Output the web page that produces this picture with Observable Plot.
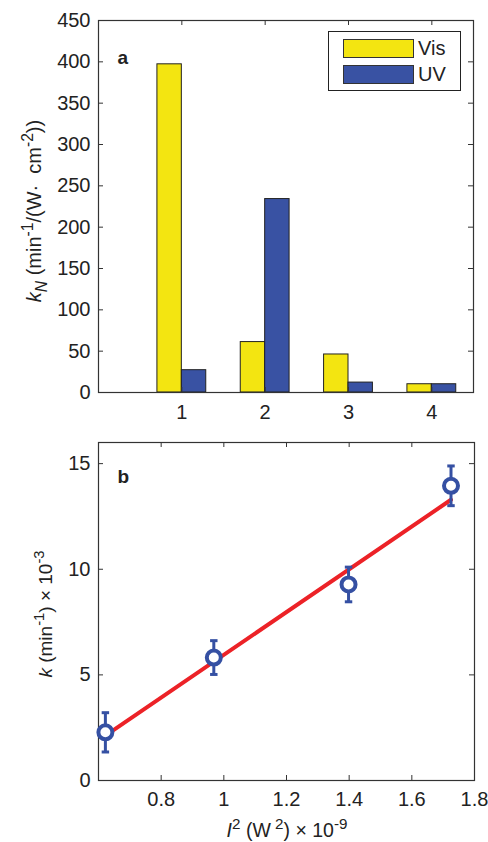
<!DOCTYPE html>
<html><head><meta charset="utf-8">
<script src="https://cdn.jsdelivr.net/npm/d3@7"></script>
<script src="https://cdn.jsdelivr.net/npm/@observablehq/plot@0.6"></script>
<style>
body{margin:0;background:#fff;font-family:"Liberation Sans",Arial,sans-serif;}
#wrap{position:relative;width:488px;height:842px;overflow:hidden;}
#wrap svg{display:block;}
.legend{position:absolute;left:328px;top:31px;width:133px;height:60px;border:1px solid #222;background:#fff;box-sizing:border-box;}
.sw{position:absolute;left:14px;width:71px;height:19px;border:1px solid #333;box-sizing:border-box;}
.lt{position:absolute;left:89px;font-size:20px;line-height:19px;color:#222;}
</style></head><body><div id="wrap"></div>
<script>
// ---- Panel a data ----
const categories = [1, 2, 3, 4];
const seriesNames = ["Vis", "UV"];
const visValues = [397, 61, 46, 10];
const uvValues = [27, 234, 12, 10];
const yTicksA = [0, 50, 100, 150, 200, 250, 300, 350, 400, 450];
// ---- Panel b data ----
const i2Values = [0.622, 0.968, 1.398, 1.725];
const kValues = [2.28, 5.82, 9.28, 13.95];
const kErrors = [0.93, 0.80, 0.82, 0.94];
const fitX = [0.622, 1.725];
const fitY = [2.12, 13.29];
const xTicksB = [0.8, 1, 1.2, 1.4, 1.6, 1.8];
const yTicksB = [0, 5, 10, 15];

const colors = {Vis: "#f3e511", UV: "#3952a3"};
const blue = "#3550a3", red = "#ec2227", axisColor = "#333";
const font = {fontFamily: "'Liberation Sans', Arial, sans-serif", fontSize: "20px", color: "#222", background: "white"};
const W = 488;

// ---------- Panel a ----------
const mA = {top: 20, right: 15, bottom: 38, left: 98};
const hA = 430;
const innerWA = W - mA.left - mA.right, innerHA = hA - mA.top - mA.bottom;
const barW = 0.293;
const barRows = categories.flatMap((c, i) => [
  {cat: c, series: "Vis", value: visValues[i]},
  {cat: c, series: "UV", value: uvValues[i]}
]);
const tick = 5;
const plotA = Plot.plot({
  width: W, height: hA,
  marginTop: mA.top, marginRight: mA.right, marginBottom: mA.bottom, marginLeft: mA.left,
  style: font,
  x: {domain: [0, 4.5]},
  y: {domain: [0, 450]},
  marks: [
    Plot.rectY(barRows, {
      x1: d => d.series === "Vis" ? d.cat - barW : d.cat,
      x2: d => d.series === "Vis" ? d.cat : d.cat + barW,
      y: "value", fill: d => colors[d.series], stroke: "#222", strokeWidth: 1
    }),
    Plot.frame({stroke: axisColor, strokeWidth: 1.2}),
    Plot.tickX(categories, {x: d => d, insetTop: innerHA - tick, stroke: axisColor}),
    Plot.tickX(categories, {x: d => d, insetBottom: innerHA - tick, stroke: axisColor}),
    Plot.tickY(yTicksA, {y: d => d, insetRight: innerWA - tick, stroke: axisColor}),
    Plot.tickY(yTicksA, {y: d => d, insetLeft: innerWA - tick, stroke: axisColor}),
    Plot.axisX(categories, {tickSize: 0, tickPadding: 12, label: null, fontSize: 20}),
    Plot.axisY(yTicksA, {tickSize: 0, tickPadding: 8, label: null, fontSize: 20}),
    Plot.text(["a"], {frameAnchor: "top-left", dx: 19, dy: 30, textAnchor: "start", fontWeight: "bold", fontSize: 19})
  ]
});

// ---------- Panel b ----------
const mB = {top: 12, right: 14, bottom: 62, left: 98};
const hB = 412;
const innerWB = W - mB.left - mB.right, innerHB = hB - mB.top - mB.bottom;
const pts = i2Values.map((x, i) => ({x, k: kValues[i], e: kErrors[i]}));
const fit = fitX.map((x, i) => ({x, y: fitY[i]}));
const capSymbol = {draw(ctx, size) { const w = Math.sqrt(size); ctx.moveTo(-w / 2, 0); ctx.lineTo(w / 2, 0); }};
const plotB = Plot.plot({
  width: W, height: hB,
  marginTop: mB.top, marginRight: mB.right, marginBottom: mB.bottom, marginLeft: mB.left,
  style: font,
  x: {domain: [0.6, 1.8]},
  y: {domain: [0, 16]},
  marks: [
    Plot.frame({stroke: axisColor, strokeWidth: 1.2}),
    Plot.tickX(xTicksB, {x: d => d, insetTop: innerHB - tick, stroke: axisColor}),
    Plot.tickX(xTicksB, {x: d => d, insetBottom: innerHB - tick, stroke: axisColor}),
    Plot.tickY(yTicksB, {y: d => d, insetRight: innerWB - tick, stroke: axisColor}),
    Plot.tickY(yTicksB, {y: d => d, insetLeft: innerWB - tick, stroke: axisColor}),
    Plot.axisX(xTicksB, {tickSize: 0, tickPadding: 11, label: null, fontSize: 20, tickFormat: d => String(d)}),
    Plot.axisY(yTicksB, {tickSize: 0, tickPadding: 8, label: null, fontSize: 20}),
    Plot.line(fit, {x: "x", y: "y", stroke: red, strokeWidth: 4}),
    Plot.ruleX(pts, {x: "x", y1: d => d.k - d.e, y2: d => d.k + d.e, stroke: blue, strokeWidth: 3}),
    Plot.dot(pts, {x: "x", y: d => d.k + d.e, symbol: capSymbol, r: 4.2, stroke: blue, strokeWidth: 3}),
    Plot.dot(pts, {x: "x", y: d => d.k - d.e, symbol: capSymbol, r: 4.2, stroke: blue, strokeWidth: 3}),
    Plot.dot(pts, {x: "x", y: "k", r: 7, stroke: blue, strokeWidth: 4, fill: "white"}),
    Plot.text(["b"], {frameAnchor: "top-left", dx: 19, dy: 27, textAnchor: "start", fontWeight: "bold", fontSize: 19})
  ]
});

const wrap = document.getElementById("wrap");
wrap.appendChild(plotA);
wrap.appendChild(plotB);

// rich text axis labels
function richLabel(svg, x, y, rotate, parts, size) {
  const t = d3.select(svg).append("text")
    .attr("transform", `translate(${x},${y})` + (rotate ? " rotate(-90)" : ""))
    .attr("text-anchor", "middle")
    .attr("font-size", size)
    .attr("fill", "#222")
    .attr("font-family", "'Liberation Sans', Arial, sans-serif");
  let shift = 0;
  for (const p of parts) {
    const s = p.sup ? -0.42 * size : p.sub ? 0.3 * size : 0;
    const ts = t.append("tspan").text(p.t).attr("dy", s - shift);
    if (p.sup || p.sub) ts.attr("font-size", size * 0.78);
    if (p.it) ts.attr("font-style", "italic");
    shift = s;
  }
}
richLabel(plotA, 41, 211, true, [
  {t: "k", it: true}, {t: "N", it: true, sub: true}, {t: " (min"}, {t: "-1", sup: true},
  {t: "/(W·  cm"}, {t: "-2", sup: true}, {t: "))"}
], 20);
richLabel(plotB, 52, 184, true, [
  {t: "k", it: true}, {t: " (min"}, {t: "-1", sup: true}, {t: ") × 10"}, {t: "-3", sup: true}
], 19);
richLabel(plotB, 287, 407, false, [
  {t: "I", it: true}, {t: "2", sup: true}, {t: " (W"}, {t: " 2", sup: true}, {t: ") × 10"}, {t: "-9", sup: true}
], 19.5);

// legend
const lg = document.createElement("div");
lg.className = "legend";
seriesNames.forEach((s, i) => {
  const sw = document.createElement("div");
  sw.className = "sw"; sw.style.top = (7 + i * 26) + "px"; sw.style.background = colors[s];
  const lt = document.createElement("div");
  lt.className = "lt"; lt.style.top = (7 + i * 26) + "px"; lt.textContent = s;
  lg.appendChild(sw); lg.appendChild(lt);
});
wrap.appendChild(lg);
</script></body></html>
